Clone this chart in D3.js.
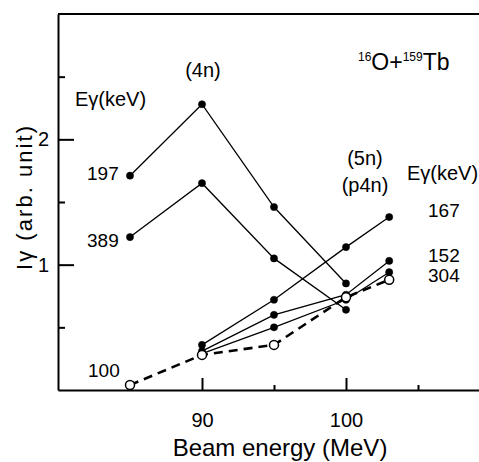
<!DOCTYPE html>
<html>
<head>
<meta charset="utf-8">
<script src="https://cdn.jsdelivr.net/npm/d3@7"></script>
<style>
  body { margin: 0; background: #fff; }
  svg { font-family: "Liberation Sans", Arial, sans-serif; }
</style>
</head>
<body>
<div id="chart"></div>
<script>
// beam energies (MeV) and relative intensities
var energiesA = [85, 90, 95, 100];
var energiesB = [90, 95, 100, 103];
var energiesC = [85, 90, 95, 100, 103];

var gamma197 = [1.71, 2.28, 1.46, 0.85];
var gamma389 = [1.22, 1.65, 1.05, 0.64];
var gamma167 = [0.36, 0.72, 1.14, 1.38];
var gamma152 = [0.31, 0.60, 0.76, 1.03];
var gamma304 = [0.29, 0.50, 0.72, 0.94];
var gamma100 = [0.04, 0.28, 0.36, 0.74, 0.88];

var xMajor = [90, 100];
var xMinor = [95, 105];
var yMajor = [1, 2];
var yMinor = [0.5, 1.5, 2.5];

var width = 479, height = 462;

var svg = d3.select("#chart")
  .append("svg")
    .attr("width", width)
    .attr("height", height);

var x = d3.scaleLinear().domain([80, 110]).range([58, 490]);
var y = d3.scaleLinear().domain([0, 3]).range([390, 14]);

// frame: top line
svg.append("line")
  .attr("x1", x(80)).attr("x2", width)
  .attr("y1", y(3)).attr("y2", y(3))
  .attr("stroke", "black").attr("stroke-width", 2);

// bottom axis, ticks pointing up
var xAxis = svg.append("g")
  .attr("transform", "translate(0," + y(0) + ")")
  .call(d3.axisBottom(x).tickValues(xMajor).tickSizeInner(-12).tickSizeOuter(0).tickPadding(23));
svg.append("g")
  .attr("transform", "translate(0," + y(0) + ")")
  .call(d3.axisBottom(x).tickValues(xMinor).tickSizeInner(-5).tickSizeOuter(0).tickFormat(""))
  .select(".domain").remove();

// left axis, ticks pointing right
var yAxis = svg.append("g")
  .attr("transform", "translate(" + x(80) + ",0)")
  .call(d3.axisLeft(y).tickValues(yMajor).tickSizeInner(-16).tickSizeOuter(0).tickPadding(9).tickFormat(d3.format("d")));
svg.append("g")
  .attr("transform", "translate(" + x(80) + ",0)")
  .call(d3.axisLeft(y).tickValues(yMinor).tickSizeInner(-7).tickSizeOuter(0).tickFormat(""))
  .select(".domain").remove();

svg.selectAll(".domain").attr("stroke-width", 2);
svg.selectAll(".tick line").attr("stroke-width", 2);
svg.selectAll(".tick text").attr("font-size", "20px").attr("font-family", "Liberation Sans, Arial, sans-serif");

// series
var series = [
  { xs: energiesA, ys: gamma197, open: false, dashed: false },
  { xs: energiesA, ys: gamma389, open: false, dashed: false },
  { xs: energiesB, ys: gamma167, open: false, dashed: false },
  { xs: energiesB, ys: gamma152, open: false, dashed: false },
  { xs: energiesB, ys: gamma304, open: false, dashed: false },
  { xs: energiesC, ys: gamma100, open: true, dashed: true }
];

var line = d3.line()
  .x(function(d) { return x(d[0]); })
  .y(function(d) { return y(d[1]); });

series.forEach(function(s) {
  var pts = s.xs.map(function(v, i) { return [v, s.ys[i]]; });
  svg.append("path")
    .datum(pts)
    .attr("fill", "none")
    .attr("stroke", "black")
    .attr("stroke-width", s.dashed ? 2.6 : 1.3)
    .attr("stroke-dasharray", s.dashed ? "9,6" : null)
    .attr("d", line);
  s.pts = pts;
});

series.forEach(function(s) {
  svg.selectAll(null)
    .data(s.pts)
    .enter().append("circle")
    .attr("cx", function(d) { return x(d[0]); })
    .attr("cy", function(d) { return y(d[1]); })
    .attr("r", s.open ? 4.5 : 3.6)
    .attr("fill", s.open ? "white" : "black")
    .attr("stroke", "black")
    .attr("stroke-width", s.open ? 1.5 : 0.5);
});

// labels
function label(tx, ty, str, size, anchor) {
  return svg.append("text")
    .attr("x", tx).attr("y", ty)
    .attr("font-size", size + "px")
    .attr("text-anchor", anchor || "start")
    .text(str);
}

label(75, 106, "Eγ(keV)", 20);
label(87, 180, "197", 19);
label(87, 247, "389", 19);
label(88, 377, "100", 19);
label(203, 77, "(4n)", 20, "middle");
label(365, 165, "(5n)", 20, "middle");
label(365, 192, "(p4n)", 20, "middle");
label(407, 180, "Eγ(keV)", 20);
label(428, 217, "167", 19);
label(428, 262, "152", 19);
label(428, 282, "304", 19);

// reaction title with superscript mass numbers
var title = svg.append("text")
  .attr("x", 358).attr("y", 70)
  .attr("font-size", "23px");
title.append("tspan").attr("font-size", "12px").attr("dy", "-9").text("16");
title.append("tspan").attr("dy", "9").text("O+");
title.append("tspan").attr("font-size", "12px").attr("dy", "-9").text("159");
title.append("tspan").attr("dy", "9").text("Tb");

// axis titles
label(280, 456, "Beam energy (MeV)", 24, "middle");

svg.append("text")
  .attr("transform", "translate(32,198) rotate(-90)")
  .attr("text-anchor", "middle")
  .attr("font-size", "22px")
  .attr("textLength", 144)
  .attr("lengthAdjust", "spacing")
  .text("Iγ (arb. unit)");
</script>
</body>
</html>
